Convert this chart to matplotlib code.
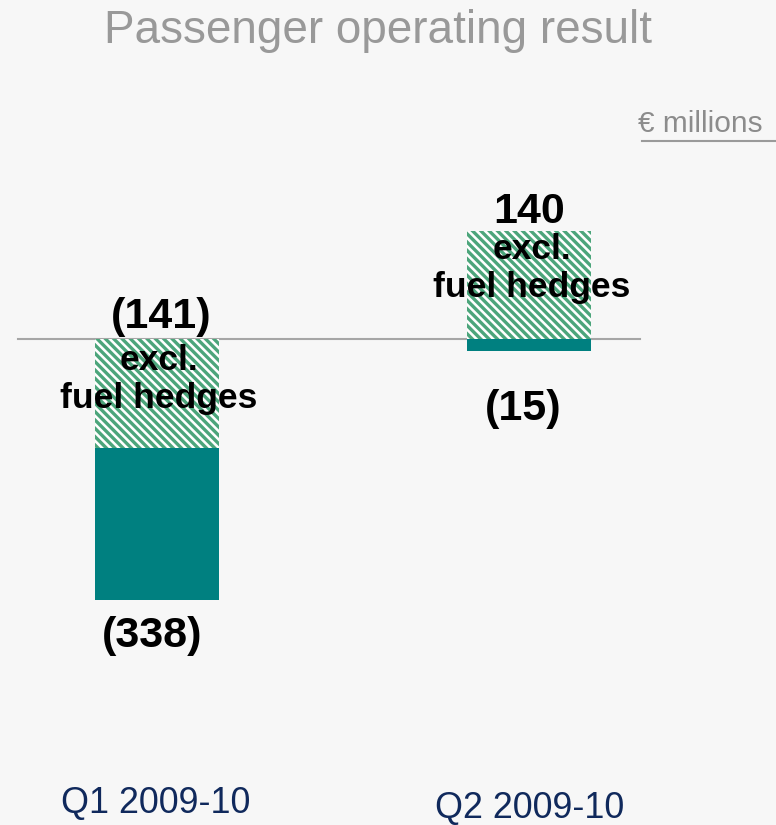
import matplotlib
matplotlib.use("Agg")
import matplotlib.pyplot as plt
from matplotlib.lines import Line2D

# Passenger operating result, EUR millions
categories = ["Q1 2009-10", "Q2 2009-10"]
reported = [-338, -15]            # operating result as reported
excl_fuel_hedges = [-141, 140]    # operating result excluding fuel hedges
reported_labels = ["(338)", "(15)"]
excl_labels = ["(141)", "140"]
excl_text = "excl.\nfuel hedges"
title = "Passenger operating result"
unit_text = "\u20ac millions"

BG = "#f7f7f7"
TEAL = "#008080"
HATCH_GREEN = "#4ca57b"
GREY_TEXT = "#999999"
NAVY = "#10295c"

plt.rcParams["font.family"] = ["Liberation Sans", "DejaVu Sans"]
plt.rcParams["hatch.linewidth"] = 2.4

W, H, DPI = 776, 825, 100
fig = plt.figure(figsize=(W / DPI, H / DPI), dpi=DPI, facecolor=BG)
ax = fig.add_axes([0, 0, 1, 1], facecolor=BG)
ax.set_xlim(-0.4226, 1.666)
ax.set_ylim(-629.5, 439.1)
ax.axis("off")

x = list(range(len(categories)))
bar_w = 0.334

# zero line
ax.axhline(0, xmin=18 / W, xmax=640 / W, color="#a6a6a6", lw=1.5, zorder=1)

# reported result (solid) and result excluding fuel hedges (hatched)
ax.bar(x, reported, width=bar_w, color=TEAL, linewidth=0, zorder=2)
ax.bar(x, excl_fuel_hedges, width=bar_w, facecolor="white",
       edgecolor=HATCH_GREEN, hatch="\\" * 4, linewidth=0, zorder=3)

PT = 0.72  # points per pixel at 100 dpi
label_kw = dict(textcoords="offset points", ha="center", va="baseline",
                fontsize=31, fontweight="bold", color="black", zorder=5)

# value labels for the hatched bars (placed above the upper end of the bar)
excl_anchor = [max(0, v) for v in excl_fuel_hedges]
excl_offsets = [(4, 11), (1, 8)]
for i, (v, lab, off) in enumerate(zip(excl_anchor, excl_labels, excl_offsets)):
    ax.annotate(lab, xy=(i, v), xytext=(off[0] * PT, off[1] * PT), **label_kw)

# value labels for the reported result (below the bar end)
rep_offsets = [(-4.5, -47), (-5.5, -69)]
for i, (v, lab, off) in enumerate(zip(reported, reported_labels, rep_offsets)):
    ax.annotate(lab, xy=(i, v), xytext=(off[0] * PT, off[1] * PT), **label_kw)

# "excl. fuel hedges" captions (offset is to the baseline of the last line)
cap_offsets = [(1.5, -69), (3.5, 42)]
for i, off in enumerate(cap_offsets):
    ax.annotate(excl_text, xy=(i, 0), xytext=(off[0] * PT, off[1] * PT),
                textcoords="offset points", ha="center", va="baseline",
                multialignment="center", linespacing=1.18,
                fontsize=25.5, fontweight="bold", color="black", zorder=5)

# category labels along the bottom
cat_offsets = [(-1, 12), (1.5, 7)]
for i, (cat, off) in enumerate(zip(categories, cat_offsets)):
    ax.annotate(cat, xy=(i, 0), xycoords=("data", "axes fraction"),
                xytext=(off[0] * PT, off[1] * PT), textcoords="offset points",
                ha="center", va="baseline", fontsize=25.8, color=NAVY)

# title and unit
fig.text(378 / W, 1 - 43 / H, title, ha="center", va="baseline",
         fontsize=33, color=GREY_TEXT)
fig.text(763 / W, 1 - 132 / H, unit_text, ha="right", va="baseline",
         fontsize=21.5, color="#8c8c8c")
fig.add_artist(Line2D([642 / W, 1.0], [1 - 141 / H, 1 - 141 / H],
                      transform=fig.transFigure, color="#9a9a9a", lw=1.5))

fig.savefig("out.png", dpi=DPI, facecolor=BG)
